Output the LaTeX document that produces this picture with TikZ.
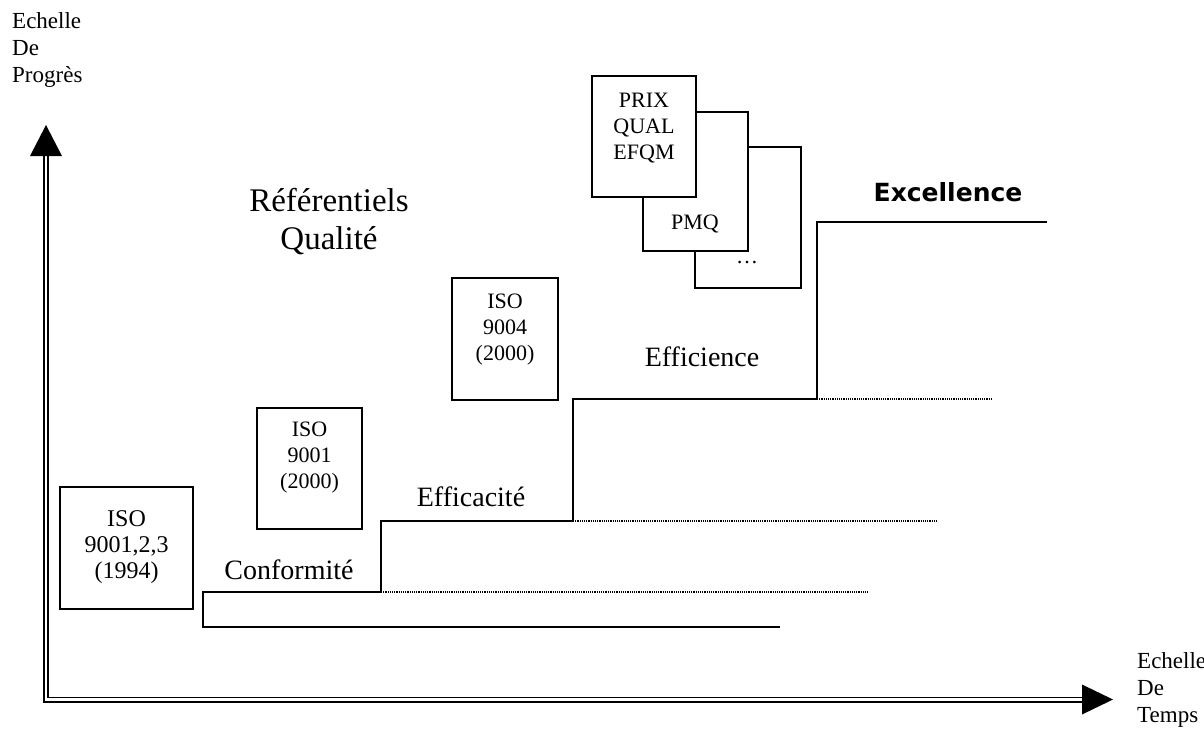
\documentclass[tikz,border=0pt]{standalone}
\usepackage{fontspec}
\setmainfont{Liberation Serif}
\newfontfamily\exfont{DejaVu Sans}
\usetikzlibrary{calc}
\begin{document}
\begin{tikzpicture}[x=1pt,y=-1pt,
  box/.style={draw, line width=1.3pt, fill=white, inner sep=0pt},
  boxtxt/.style={align=center, inner sep=0pt, font=\fontsize{22}{26}\selectfont},
  lab/.style={anchor=base, inner sep=0pt, font=\fontsize{28}{32}\selectfont},
  axtxt/.style={anchor=north west, align=left, inner sep=0pt, font=\fontsize{23}{27}\selectfont},
  stepline/.style={line width=1.6pt, line join=miter},
  dotline/.style={line width=1.2pt, dash pattern=on 1.2pt off 1pt},
  axis/.style={double, double distance=2.2pt, line width=1.9pt, line join=miter},
]
\useasboundingbox (0,0) rectangle (1204,729);

% axes
\coordinate (O) at (46,699.5);
\coordinate (ybase) at (46,156);
\coordinate (ytip) at (46,125);
\coordinate (xbase) at (1082,699.5);
\coordinate (xtip) at (1113,699.5);
\draw[axis] (ybase) -- (O) -- (xbase);
\fill ($(ybase)+(-16,0)$) -- (ytip) -- ($(ybase)+(16,0)$) -- cycle;
\fill ($(xbase)+(0,-15)$) -- (xtip) -- ($(xbase)+(0,15)$) -- cycle;

\node[axtxt] (yl) at (12,12) {Echelle\\De\\Progrès};
\node[axtxt] (xl) at (1137,652) {Echelle\\De\\Temps};

% steps
\coordinate (s0) at (780,627);
\coordinate (s1) at (203,627);
\coordinate (s2) at (203,592);
\coordinate (s3) at (381,592);
\coordinate (s4) at (381,521);
\coordinate (s5) at (573,521);
\coordinate (s6) at (573,399);
\coordinate (s7) at (817,399);
\coordinate (s8) at (817,222);
\coordinate (s9) at (1047,222);
\coordinate (d1) at (868,592);
\coordinate (d2) at (938,521);
\coordinate (d3) at (992,399);
\draw[stepline] (s0) -- (s1) -- (s2) -- (s3) -- (s4) -- (s5) -- (s6) -- (s7) -- (s8) -- (s9);
\draw[dotline] (s3) -- (d1);
\draw[dotline] (s5) -- (d2);
\draw[dotline] (s7) -- (d3);

% step labels
\node[lab] (conf) at (289,579) {Conformité};
\node[lab] (effa) at (471,506) {Efficacité};
\node[lab] (effi) at (702,366) {Efficience};
\node[anchor=base, inner sep=0pt, font=\exfont\bfseries\fontsize{25}{30}\selectfont] (exc) at (948,201.5) {Excellence};

\node[anchor=north, align=center, inner sep=0pt, font=\fontsize{33}{38}\selectfont] (ref) at (329,188) {Référentiels\\Qualité};

% ISO boxes
\node[box, minimum width=133pt, minimum height=122pt] (b1) at (126.5,548) {};
\node[boxtxt, font=\fontsize{24}{26}\selectfont] (t1) at (126.5,547) {ISO\\9001,2,3\\(1994)};
\node[box, minimum width=105pt, minimum height=121pt] (b2) at (309.5,468.5) {};
\node[boxtxt] (t2) at (309.5,458) {ISO\\9001\\(2000)};
\node[box, minimum width=106pt, minimum height=122pt] (b3) at (505,339) {};
\node[boxtxt] (t3) at (505,330) {ISO\\9004\\(2000)};

% prize boxes
\node[box, minimum width=106pt, minimum height=141pt] (b6) at (748,217.5) {};
\node[boxtxt] (t6) at (747,263) {\ldots};
\node[box, minimum width=105pt, minimum height=139pt] (b5) at (695.5,181.5) {};
\node[boxtxt] (t5) at (695,224) {PMQ};
\node[box, minimum width=104pt, minimum height=121pt] (b4) at (644,136.5) {};
\node[boxtxt] (t4) at (644,128) {PRIX\\QUAL\\EFQM};
\end{tikzpicture}
\end{document}
